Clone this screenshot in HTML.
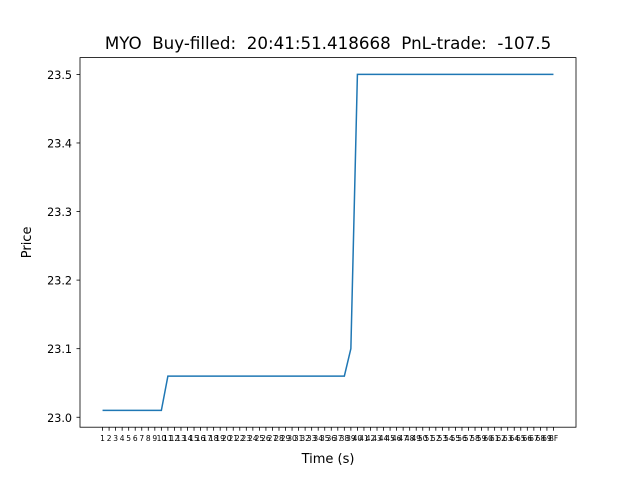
<!DOCTYPE html>
<html><head><meta charset="utf-8"><style>
body{margin:0;background:#fff;}
svg{display:block;font-family:"DejaVu Sans","Liberation Sans",sans-serif;}
</style></head><body>
<svg id="chart" width="640" height="480"></svg>
<script>
const labels = [];
for (let i = 1; i <= 69; i++) labels.push(String(i));
labels.push("BF");
const prices = [23.01,23.01,23.01,23.01,23.01,23.01,23.01,23.01,23.01,23.01,
 23.06,23.06,23.06,23.06,23.06,23.06,23.06,23.06,23.06,23.06,
 23.06,23.06,23.06,23.06,23.06,23.06,23.06,23.06,23.06,23.06,
 23.06,23.06,23.06,23.06,23.06,23.06,23.06,23.06,23.10,23.5,
 23.5,23.5,23.5,23.5,23.5,23.5,23.5,23.5,23.5,23.5,
 23.5,23.5,23.5,23.5,23.5,23.5,23.5,23.5,23.5,23.5,
 23.5,23.5,23.5,23.5,23.5,23.5,23.5,23.5,23.5,23.5];
const yTicks = [23.0,23.1,23.2,23.3,23.4,23.5];

const NS="http://www.w3.org/2000/svg";
const svg=document.getElementById('chart');
const L=80,R=576,T=57.6,B=427.2;
const n=prices.length;
const pad=(n-1)*0.05;
const xmin=-pad,xmax=n-1+pad;
const dmin=Math.min(...prices),dmax=Math.max(...prices);
const ypad=(dmax-dmin)*0.05;
const ymin=dmin-ypad,ymax=dmax+ypad;
const xs=i=>L+(i-xmin)/(xmax-xmin)*(R-L);
const ys=v=>B-(v-ymin)/(ymax-ymin)*(B-T);
function mk(tag,attrs,text){const e=document.createElementNS(NS,tag);for(const k in attrs)e.setAttribute(k,attrs[k]);if(text!==undefined)e.textContent=text;svg.appendChild(e);return e;}

let d='';
prices.forEach((p,i)=>{d+=(i?'L':'M')+xs(i).toFixed(2)+' '+ys(p).toFixed(2);});
const line=mk('path',{d:d,fill:'none',stroke:'#1f77b4','stroke-width':1.5});



const frame=mk('rect',{x:L,y:T,width:R-L,height:B-T,fill:'none',stroke:'#000','stroke-width':0.8});



yTicks.forEach(v=>{
 const y=ys(v);
 mk('line',{x1:L-3.5,x2:L,y1:y,y2:y,stroke:'#000','stroke-width':0.8});
 const t=mk('text',{x:L-8,y:y+4.5,'text-anchor':'end','font-size':11.2},v.toFixed(1));
 
 
});
labels.forEach((lab,i)=>{
 const x=xs(i);
 mk('line',{x1:x,x2:x,y1:B,y2:B+3.5,stroke:'#000','stroke-width':0.8});
 const t=mk('text',{x:x,y:B+14,'text-anchor':'middle','font-size':7.5},lab);
 
 
});
const xt=mk('text',{x:(L+R)/2,y:463,'text-anchor':'middle','font-size':13},'Time (s)');


const yt=mk('text',{x:0,y:0,'text-anchor':'middle','font-size':13,transform:'translate(31,'+((T+B)/2)+') rotate(-90)'},'Price');


const ti=mk('text',{x:(L+R)/2,y:49,'text-anchor':'middle','font-size':16.7},'MYO  Buy-filled:  20:41:51.418668  PnL-trade:  -107.5');
ti.setAttribute('style','white-space:pre');


</script>
</body></html>
